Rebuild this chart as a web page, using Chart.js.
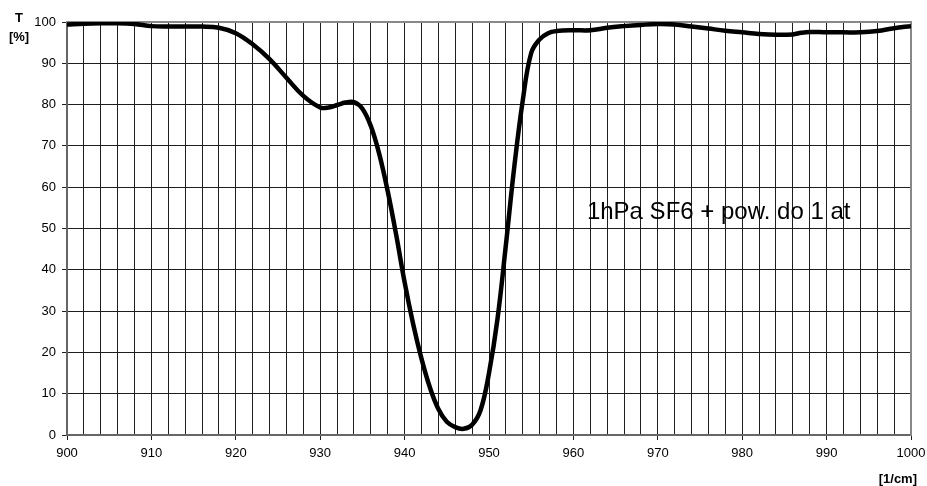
<!DOCTYPE html>
<html>
<head>
<meta charset="utf-8">
<script src="https://cdn.jsdelivr.net/npm/chart.js@4/dist/chart.umd.min.js"></script>
<style>
  html, body { margin: 0; padding: 0; background: #fff; }
  #wrap { position: relative; width: 927px; height: 486px; }
</style>
</head>
<body>
<div id="wrap"><canvas id="c" width="927" height="486"></canvas></div>
<script>
// ── Data ──────────────────────────────────────────────────────────────────
const waveNumbers = [
  900, 902, 904, 906, 908, 910, 912, 914, 916, 918,
  920, 922, 924, 926, 928, 930, 931, 932, 933, 934,
  935, 936, 937, 938, 939, 940, 941, 942, 943, 944,
  945, 946, 947, 948, 949, 950, 951, 952, 953, 954,
  955, 956, 957, 958, 960, 962, 964, 966, 968, 970,
  972, 974, 976, 978, 980, 982, 984, 986, 987, 988,
  990, 992, 994, 996, 998, 1000
];
const transmission = [
  99.4, 99.6, 99.7, 99.7, 99.5, 99.0, 98.9, 98.9, 98.9, 98.6,
  97.3, 94.6, 91.0, 86.5, 82.1, 79.3, 79.3, 79.9, 80.5, 80.6,
  79.0, 74.8, 68.0, 59.0, 48.5, 37.0, 27.0, 18.5, 11.5, 6.3,
  3.2, 1.9, 1.5, 2.5, 6.0, 15.0, 28.0, 46.0, 65.0, 81.0,
  92.5, 95.8, 97.3, 97.8, 98.0, 98.0, 98.6, 99.0, 99.3, 99.5,
  99.4, 98.9, 98.4, 97.9, 97.5, 97.1, 96.9, 97.0, 97.4, 97.6,
  97.5, 97.5, 97.5, 97.8, 98.5, 99.0
];
const xTicksLabelled = [900, 910, 920, 930, 940, 950, 960, 970, 980, 990, 1000];
const yTicks = [0, 10, 20, 30, 40, 50, 60, 70, 80, 90, 100];
const noteText = '1hPa SF6 + pow. do 1 at';

const FONT = '"Liberation Sans", Arial, sans-serif';

// ── Extra labels: axis units and the note inside the plot ─────────────────
const labelsPlugin = {
  id: 'labels',
  afterDatasetsDraw(chart) {
    const { ctx, scales: { x, y } } = chart;
    ctx.save();
    ctx.fillStyle = '#000';
    ctx.textAlign = 'center';
    ctx.textBaseline = 'middle';
    ctx.font = 'bold 13px ' + FONT;
    ctx.fillText('T', 19, 18);
    ctx.fillText('[%]', 19, 37);
    ctx.textAlign = 'right';
    ctx.fillText('[1/cm]', 917, 479);
    ctx.textAlign = 'left';
    ctx.textBaseline = 'alphabetic';
    ctx.font = '24px ' + FONT;
    ctx.fillText(noteText, x.getPixelForValue(961.6), y.getPixelForValue(52.4));
    ctx.restore();
  }
};

const gridCol = '#1e1e1e';

new Chart(document.getElementById('c'), {
  type: 'line',
  data: {
    datasets: [{
      data: waveNumbers.map((w, i) => ({ x: w, y: transmission[i] })),
      borderColor: '#000',
      borderWidth: 4.5,
      pointRadius: 0,
      tension: 0.4,
      fill: false,
    }]
  },
  options: {
    responsive: false,
    animation: false,
    layout: { padding: { top: 22, right: 16, left: 0, bottom: 0 } },
    plugins: { legend: { display: false }, tooltip: { enabled: false } },
    scales: {
      x: {
        type: 'linear',
        min: 900, max: 1000,
        afterFit: s => { s.height = 51; s.paddingLeft = 0; s.paddingRight = 0; },
        afterBuildTicks: s => {
          const t = [];
          for (let v = 900; v <= 1000; v += 2) t.push({ value: v });
          s.ticks = t;
        },
        ticks: {
          autoSkip: false, maxRotation: 0, padding: 6,
          color: '#000',
          font: { family: FONT, size: 13 },
          callback: v => xTicksLabelled.includes(v) ? String(v) : '',
        },
        grid: {
          color: gridCol, lineWidth: 1, tickLength: 5,
          tickColor: c => (c.tick && c.tick.value % 10 === 0) ? gridCol : 'rgba(0,0,0,0)',
        },
        border: { color: '#666', width: 2 },
      },
      y: {
        min: 0, max: 100,
        afterFit: s => { s.width = 67; s.paddingTop = 0; s.paddingBottom = 0; },
        afterBuildTicks: s => { s.ticks = yTicks.map(v => ({ value: v })); },
        ticks: {
          color: '#000', padding: 6,
          font: { family: FONT, size: 13 },
        },
        grid: { color: gridCol, lineWidth: 1, tickLength: 5, tickColor: gridCol },
        border: { color: '#666', width: 2 },
      },
      y2: {
        position: 'right', min: 0, max: 100, display: true,
        afterFit: s => { s.width = 0; },
        ticks: { display: false },
        grid: { display: false, drawTicks: false },
        border: { color: '#888', width: 2 },
      },
      x2: {
        type: 'linear', position: 'top', min: 900, max: 1000, display: true,
        afterFit: s => { s.height = 0; },
        ticks: { display: false },
        grid: { display: false, drawTicks: false },
        border: { color: '#888', width: 2 },
      },
    }
  },
  plugins: [labelsPlugin]
});
</script>
</body>
</html>
